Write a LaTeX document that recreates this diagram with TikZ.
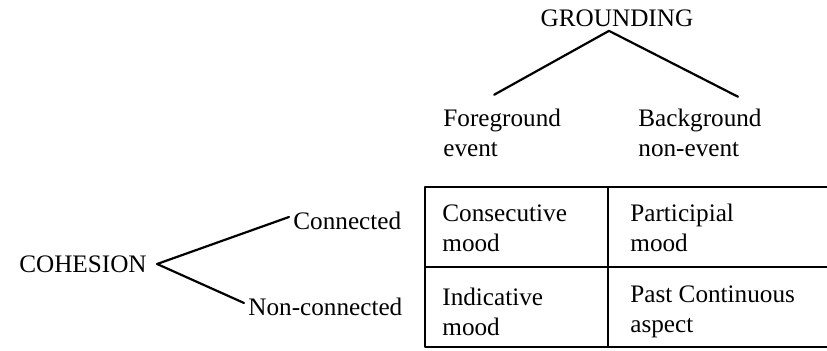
\documentclass[tikz,border=0pt]{standalone}
\usepackage{fontspec}
\setmainfont{Liberation Serif}
\begin{document}
\begin{tikzpicture}[line join=round,line cap=round,x=0.5pt,y=-0.5pt,
	font=\fontsize{12.6}{15}\selectfont,inner sep=2pt,
	lbl/.style={anchor=west,align=left},
	branch/.style={line width=1.1pt},
	grid/.style={line width=1pt}]
		\useasboundingbox (0,0) rectangle (827,351);
		% headings
		\node (gr) at (617,18){GROUNDING};
		\node (coh) at (83,264){COHESION};
		\node[lbl] (fg) at (439,133){Foreground\\event};
		\node[lbl] (bg) at (634,133){Background\\non-event};
		\node[lbl] (con) at (289,221){Connected};
		\node[lbl] (non) at (244,307){Non-connected};
		
		\draw[branch] ([xshift=-4pt]gr.south)--([shift={(-4pt,5pt)}]fg.north);
		\draw[branch] ([xshift=-4pt]gr.south)--([shift={(19pt,4pt)}]bg.north);
		\draw[branch] ([xshift=3pt]coh.east)--([yshift=2pt]con.west);
		\draw[branch] ([xshift=3pt]coh.east)--([yshift=2pt]non.west);
		
		% table, open on the right
		\draw[grid] (827,187)--(425,187)--(425,347)--(827,347);
		\draw[grid] (425,267)--(827,267);
		\draw[grid] (608,187)--(608,347);
		\node[lbl] (c11) at (438,228){Consecutive\\mood};
		\node[lbl] (c12) at (626,228){Participial\\mood};
		\node[lbl] (c21) at (438,312){Indicative\\mood};
		\node[lbl] (c22) at (626,312){Past Continuous\\aspect};
		\end{tikzpicture}
\end{document}
